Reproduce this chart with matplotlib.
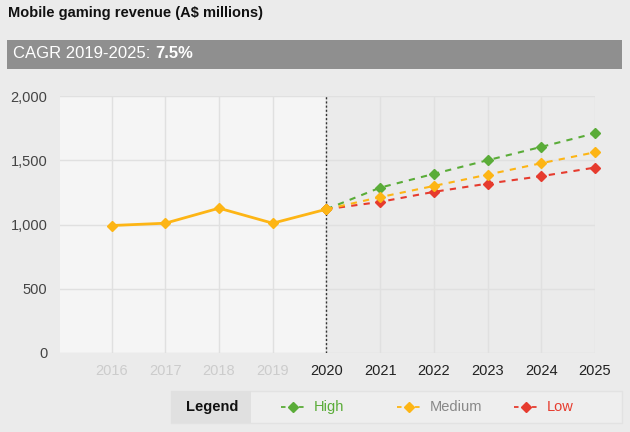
import matplotlib
matplotlib.use('Agg')
import matplotlib.pyplot as plt
import matplotlib.patches as patches

# --- Data ---
hist_years = [2016, 2017, 2018, 2019, 2020]
hist_vals = [992, 1010, 1127, 1010, 1119]

fc_years = [2020, 2021, 2022, 2023, 2024, 2025]
high_vals = [1119, 1287, 1394, 1500, 1604, 1710]
med_vals = [1119, 1213, 1300, 1388, 1477, 1562]
low_vals = [1119, 1176, 1254, 1318, 1376, 1443]

all_years = [2016, 2017, 2018, 2019, 2020, 2021, 2022, 2023, 2024, 2025]
y_ticks = [0, 500, 1000, 1500, 2000]

# --- Theme ---
plt.rcParams['font.family'] = ['Liberation Sans', 'DejaVu Sans']
BG = '#ebebeb'
HIST_BG = '#f5f5f5'
GRID = '#e0e0e0'
GREEN = '#5aac38'
YELLOW = '#fdb515'
RED = '#e63b2e'
W, H = 630, 432

fig = plt.figure(figsize=(6.3, 4.32), dpi=100, facecolor=BG)

def fx(px):
    return px / W

def fy(py):
    return 1 - py / H

# title and CAGR band
fig.text(fx(8), fy(13), 'Mobile gaming revenue (A$ millions)', fontsize=10.5,
         fontweight='bold', color='#111111', ha='left', va='center')
fig.patches.append(patches.Rectangle((fx(7), fy(69)), fx(615), 29 / H,
                                     transform=fig.transFigure, facecolor='#8f8f8f',
                                     edgecolor='none'))
t1 = fig.text(fx(13), fy(54), 'CAGR 2019-2025: ', fontsize=12, color='white',
              ha='left', va='center')
fig.canvas.draw()
bb = t1.get_window_extent()
fig.text(bb.x1 / W, fy(54), '7.5%', fontsize=12, color='white',
         fontweight='bold', ha='left', va='center')

# --- Axes ---
ax = fig.add_axes([fx(60), fy(353), fx(535), (353 - 96) / H])
ax.set_facecolor(BG)
ax.set_xlim(2015.04, 2025)
ax.set_ylim(0, 2000)
ax.axvspan(2015.04, 2020, color=HIST_BG, zorder=0)

for yt in y_ticks:
    ax.axhline(yt, color=GRID, lw=1, zorder=1)
for xt in all_years:
    ax.axvline(xt, color=GRID, lw=1, zorder=1)
ax.axvline(2020, color='#333333', lw=1, ls=(0, (1.5, 1.5)), zorder=2)

for s in ax.spines.values():
    s.set_visible(False)

ax.set_yticks(y_ticks)
ax.set_yticklabels([f'{v:,}' for v in y_ticks], fontsize=10.5, color='#444444')
ax.set_xticks(all_years)
ax.set_xticklabels([str(y) for y in all_years], fontsize=10.5)
for lbl, yr in zip(ax.get_xticklabels(), all_years):
    lbl.set_color('#cccccc' if yr < 2020 else '#222222')
ax.tick_params(length=0, pad=8)
ax.tick_params(axis='y', pad=9)

# --- Lines ---
ax.plot(fc_years, high_vals, color=GREEN, lw=1.5, ls=(0, (3, 3)), marker='D',
        ms=5, zorder=3, clip_on=False)
ax.plot(fc_years, med_vals, color=YELLOW, lw=1.5, ls=(0, (3, 3)), marker='D',
        ms=5, zorder=4, clip_on=False)
ax.plot(fc_years, low_vals, color=RED, lw=1.5, ls=(0, (3, 3)), marker='D',
        ms=5, zorder=3, clip_on=False)
ax.plot(hist_years, hist_vals, color=YELLOW, lw=2, marker='D', ms=5, zorder=5,
        clip_on=False)

# --- Legend box ---
fig.patches.append(patches.Rectangle((fx(171), fy(423)), fx(451), 32 / H,
                                     transform=fig.transFigure, facecolor='#eeeeee',
                                     edgecolor='#e2e2e2', lw=1))
fig.patches.append(patches.Rectangle((fx(171), fy(423)), fx(80), 32 / H,
                                     transform=fig.transFigure, facecolor='#e0e0e0',
                                     edgecolor='none'))
fig.text(fx(212), fy(407), 'Legend', fontsize=10.5, fontweight='bold', color='#111111',
         ha='center', va='center')

legend_items = [('High', GREEN, GREEN, 281), ('Medium', YELLOW, '#888888', 397),
                ('Low', RED, RED, 514)]
for name, col, tcol, x0 in legend_items:
    fig.lines.append(plt.Line2D([fx(x0), fx(x0 + 24)], [fy(407), fy(407)],
                                transform=fig.transFigure, color=col, lw=1.3,
                                ls=(0, (2.5, 2.5))))
    fig.lines.append(plt.Line2D([fx(x0 + 12)], [fy(407)], transform=fig.transFigure,
                                color=col, marker='D', ms=5, lw=0))
    fig.text(fx(x0 + 33), fy(407), name, fontsize=10.5, color=tcol, ha='left',
             va='center')

plt.savefig('out.png', dpi=100, facecolor=BG)
plt.close()
